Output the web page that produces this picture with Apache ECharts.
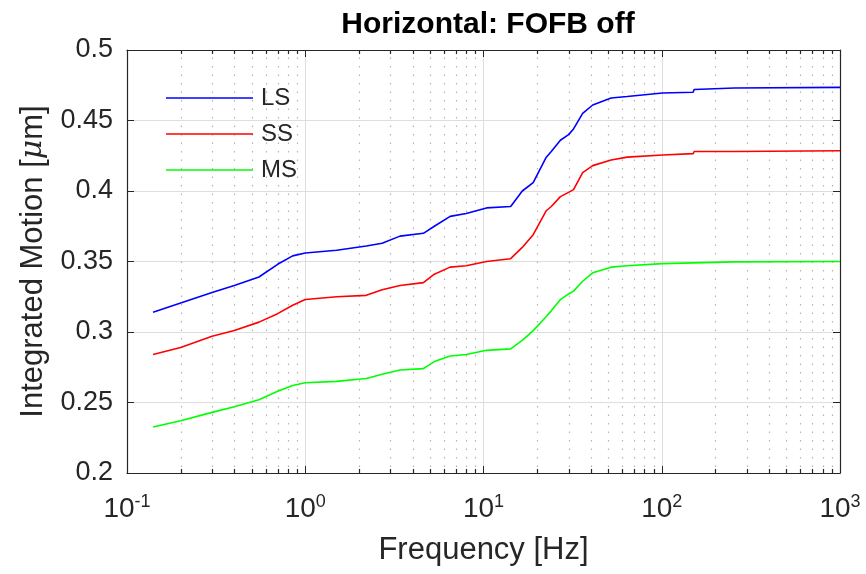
<!DOCTYPE html>
<html>
<head>
<meta charset="utf-8">
<script src="https://cdn.jsdelivr.net/npm/echarts@6/dist/echarts.min.js"></script>
<style>html,body{margin:0;padding:0;background:#fff;}#c{width:866px;height:574px;}</style>
</head>
<body>
<div id="c"></div>
<script>
const freq = [0.14, 0.2, 0.3, 0.4, 0.55, 0.7, 0.85, 1.0, 1.5, 2.2, 2.7, 3.4, 4.6, 5.3, 6.5, 8.0, 10.4, 14.2, 16.5, 19, 22.5, 24, 27, 30, 32, 36, 41, 52, 64, 101, 150, 152, 256, 1000];
const lsVals = [0.314, 0.3206, 0.328, 0.333, 0.339, 0.348, 0.354, 0.356, 0.358, 0.361, 0.363, 0.368, 0.370, 0.375, 0.382, 0.384, 0.388, 0.389, 0.400, 0.406, 0.424, 0.428, 0.436, 0.440, 0.444, 0.455, 0.461, 0.466, 0.467, 0.4695, 0.470, 0.472, 0.473, 0.4735];
const ssVals = [0.284, 0.289, 0.297, 0.301, 0.307, 0.313, 0.319, 0.323, 0.325, 0.326, 0.330, 0.333, 0.335, 0.341, 0.346, 0.347, 0.350, 0.352, 0.360, 0.369, 0.386, 0.389, 0.396, 0.399, 0.401, 0.413, 0.418, 0.422, 0.424, 0.4255, 0.4265, 0.428, 0.428, 0.4285];
const msVals = [0.2326, 0.237, 0.243, 0.247, 0.252, 0.258, 0.262, 0.264, 0.265, 0.267, 0.270, 0.273, 0.274, 0.279, 0.283, 0.284, 0.287, 0.288, 0.294, 0.301, 0.311, 0.315, 0.323, 0.327, 0.329, 0.336, 0.342, 0.346, 0.347, 0.3485, 0.349, 0.3495, 0.3497, 0.350];
const seriesNames = ['LS', 'SS', 'MS'];
const seriesColors = ['#0000ff', '#ff0000', '#00ff00'];
const minorFreqs = [0.2,0.3,0.4,0.5,0.6,0.7,0.8,0.9, 2,3,4,5,6,7,8,9, 20,30,40,50,60,70,80,90, 200,300,400,500,600,700,800,900];
const xMin = 0.1, xMax = 1000, yMin = 0.2, yMax = 0.5, yStep = 0.05;
const titleText = 'Horizontal: FOFB off';
const xName = 'Frequency [Hz]';

const chart = echarts.init(document.getElementById('c'), null, {renderer: 'canvas'});
const axisColor = '#262626';
const font = '"Liberation Sans", Arial, Helvetica, sans-serif';
const valsList = [lsVals, ssVals, msVals];

const lineSeries = seriesNames.map((n, i) => ({
  name: n, type: 'line', symbol: 'none', z: 5,
  lineStyle: {color: seriesColors[i], width: 1.6},
  itemStyle: {color: seriesColors[i]},
  data: freq.map((f, j) => [f, valsList[i][j]])
}));

const minorSeries = {
  type: 'custom', silent: true, z: 1, clip: false,
  data: minorFreqs.map(f => [f, yMin]),
  renderItem: function (params, api) {
    const f = api.value(0);
    const b = api.coord([f, yMin]);
    const t = api.coord([f, yMax]);
    const x = Math.round(b[0]) + 0.5;
    return {type: 'group', children: [
      {type: 'line', shape: {x1: x, y1: b[1] - 6, x2: x, y2: t[1]},
       style: {stroke: '#b4b4b4', lineWidth: 1.2, lineDash: [1.5, 7]}},
      {type: 'line', shape: {x1: x, y1: b[1], x2: x, y2: b[1] - 4},
       style: {stroke: axisColor, lineWidth: 1.2}},
      {type: 'line', shape: {x1: x, y1: t[1], x2: x, y2: t[1] + 4},
       style: {stroke: axisColor, lineWidth: 1.2}}
    ]};
  }
};

const option = {
  animation: false,
  backgroundColor: '#ffffff',
  title: {
    text: titleText, left: 483, top: 5, textAlign: 'center',
    textStyle: {fontFamily: font, fontSize: 30, fontWeight: 'bold', color: '#000'}
  },
  legend: {
    data: seriesNames, orient: 'vertical', left: 161, top: 81,
    icon: 'rect', itemWidth: 87, itemHeight: 1.6, itemGap: 12,
    textStyle: {fontFamily: font, fontSize: 24, lineHeight: 24, color: axisColor, padding: [0, 0, 0, 3]},
    selectedMode: false
  },
  grid: {left: 127, right: 26, top: 50, bottom: 101, containLabel: false},
  xAxis: [{
    type: 'log', logBase: 10, min: xMin, max: xMax, position: 'bottom',
    name: xName, nameLocation: 'middle', nameGap: 62,
    nameTextStyle: {fontFamily: font, fontSize: 31, color: axisColor},
    axisLine: {show: true, onZero: false, lineStyle: {color: axisColor, width: 1.2}},
    axisTick: {show: true, inside: true, length: 7, lineStyle: {color: axisColor}},
    splitLine: {show: true, lineStyle: {color: '#dedede', width: 1}},
    axisLabel: {
      margin: 20, color: axisColor,
      formatter: function (v) { return '{b|10}{s|' + Math.round(Math.log10(v)) + '}'; },
      rich: {
        b: {fontFamily: font, fontSize: 28, color: axisColor, lineHeight: 32},
        s: {fontFamily: font, fontSize: 18, color: axisColor, verticalAlign: 'top', lineHeight: 32, padding: [0, 0, 12, 0]}
      }
    }
  }, {
    type: 'log', logBase: 10, min: xMin, max: xMax, position: 'top',
    axisLine: {show: true, onZero: false, lineStyle: {color: axisColor, width: 1.2}},
    axisTick: {show: true, inside: true, length: 7, lineStyle: {color: axisColor}},
    axisLabel: {show: false}, splitLine: {show: false}
  }],
  yAxis: [{
    type: 'value', min: yMin, max: yMax, interval: yStep, position: 'left',
    name: '{a|Integrated Motion [}{i|μ}{a|m]}', nameLocation: 'middle', nameGap: 78, nameRotate: 90,
    nameTextStyle: {
      fontFamily: font, fontSize: 31, color: axisColor,
      rich: {
        a: {fontFamily: font, fontSize: 31, color: axisColor},
        i: {fontFamily: '"DejaVu Serif", "Liberation Serif", serif', fontStyle: 'italic', fontSize: 30, color: axisColor}
      }
    },
    axisLine: {show: true, onZero: false, lineStyle: {color: axisColor, width: 1.2}},
    axisTick: {show: true, inside: true, length: 7, lineStyle: {color: axisColor}},
    splitLine: {show: true, lineStyle: {color: '#dedede', width: 1}},
    axisLabel: {
      margin: 14, fontFamily: font, fontSize: 27, color: axisColor,
      formatter: function (v) { return String(+v.toFixed(2)); }
    }
  }, {
    type: 'value', min: yMin, max: yMax, interval: yStep, position: 'right',
    axisLine: {show: true, onZero: false, lineStyle: {color: axisColor, width: 1.2}},
    axisTick: {show: true, inside: true, length: 7, lineStyle: {color: axisColor}},
    axisLabel: {show: false}, splitLine: {show: false}
  }],
  series: [minorSeries].concat(lineSeries)
};
chart.setOption(option);
</script>
</body>
</html>
